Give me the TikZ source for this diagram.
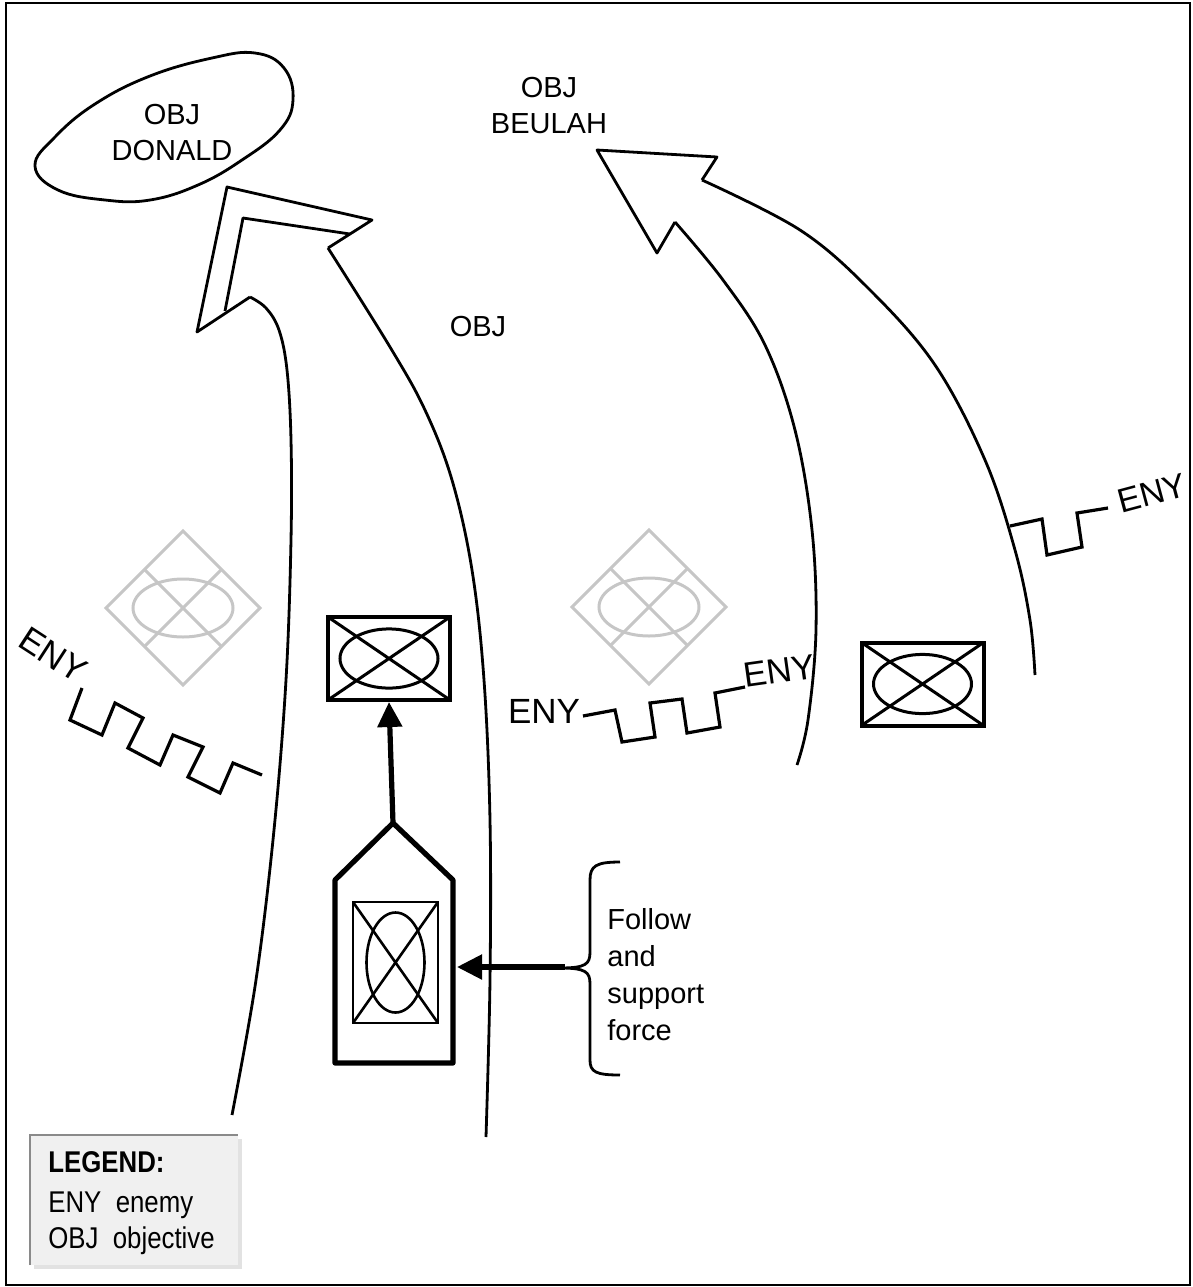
\documentclass[tikz,border=0pt]{standalone}
\usepackage{fontspec}
\setmainfont{Liberation Sans}
\newfontfamily\legendfont[FakeStretch=0.86]{Liberation Sans}
\usetikzlibrary{arrows.meta,calc,positioning}
\definecolor{ghost}{HTML}{C6C6C6}
\definecolor{legendfill}{HTML}{F0F0F0}
\definecolor{legendedge}{HTML}{8A8A8A}
\definecolor{legendshade}{HTML}{E2E2E2}

\tikzset{
  route/.style={line width=1.4pt,line join=round},
  trace/.style={line width=1.6pt,line join=miter},
  ghostline/.style={ghost,line width=1.5pt},
  lead/.style={line width=2.6pt,-{Triangle[length=12.5pt,width=12pt]}},
  unitbox/.style={draw,line width=2pt,minimum width=61pt,minimum height=41.5pt,
    inner sep=0pt,
    path picture={
      \draw[line width=1.5pt]
        (path picture bounding box.north west)--(path picture bounding box.south east)
        (path picture bounding box.south west)--(path picture bounding box.north east);
      \draw[line width=1.5pt] (path picture bounding box.center)
        ellipse (24.5pt and 14.8pt);}},
  tallbox/.style={draw,line width=1.4pt,minimum width=42.5pt,minimum height=60.5pt,
    inner sep=0pt,
    path picture={
      \draw[line width=1.3pt]
        (path picture bounding box.north west)--(path picture bounding box.south east)
        (path picture bounding box.south west)--(path picture bounding box.north east);
      \draw[line width=1.3pt] (path picture bounding box.center)
        ellipse (14.5pt and 25pt);}},
  eny/.style={font=\fontsize{17.5}{17.5}\selectfont,inner sep=0pt},
  lbl/.style={font=\fontsize{14.5}{18}\selectfont,align=center,inner sep=0pt},
  legendtxt/.style={font=\legendfont\fontsize{15}{15}\selectfont,anchor=base west,
    inner sep=0pt}
}

\begin{document}
\begin{tikzpicture}[x=0.5pt,y=-0.5pt,>=Latex]
\useasboundingbox (0,0) rectangle (1193,1287);
\draw[line width=0.9pt] (6,3) rectangle (1190,1285);

% objective DONALD
\draw[route] plot[smooth cycle,tension=0.7] coordinates
  {(35,166) (55,137) (95,104) (150,76) (212,58) (255,53) (284,68)
   (293,100) (280,130) (242,160) (198,185) (150,200) (105,200) (58,190)};
\node[lbl] (donald) at (172,133) {OBJ\\DONALD};
\node[lbl] (beulah) at (549,106) {OBJ\\BEULAH};
\node[lbl] (obj) at (478,327) {OBJ};

% left axis of advance
\draw[route] (250,297) -- (197,332) -- (227,187) -- (372,220) -- (328,248);
\draw[route] (225,311) -- (243,218) -- (350,234);
\draw[route] plot[smooth,tension=0.6] coordinates
  {(250,297) (266,308) (279,330) (287,370) (291,440) (291,540)
   (286,680) (274,830) (256,980) (232,1115)};
\draw[route] plot[smooth,tension=0.6] coordinates
  {(328,248) (390,347) (425,410) (452,480) (472,570) (484,680)
   (490,820) (490,980) (486,1137)};

% right axis of advance
\draw[route] (675,222) -- (657,253) -- (597,150) -- (717,157) -- (702,180);
\draw[route] plot[smooth,tension=0.6] coordinates
  {(675,222) (723,280) (765,345) (795,430) (812,530) (816,630)
   (808,720) (797,765)};
\draw[route] plot[smooth,tension=0.6] coordinates
  {(702,180) (800,230) (870,290) (935,365) (985,460) (1015,550)
   (1030,620) (1035,675)};

% templated positions
\foreach \cx/\cy in {183/608,649/607}{
  \begin{scope}[shift={(\cx,\cy)}]
    \draw[ghostline] (0,-77) -- (77,0) -- (0,77) -- (-77,0) -- cycle;
    \draw[ghostline] (-38.5,-38.5) -- (38.5,38.5) (38.5,-38.5) -- (-38.5,38.5);
    \draw[ghostline] (0,0) ellipse (25pt and 14.5pt);
  \end{scope}
}

% enemy positions
\draw[trace] (82,688) -- (70,720) -- (102,735) -- (115,703) -- (143,718)
  -- (128,748) -- (160,765) -- (173,735) -- (203,747) -- (188,777)
  -- (220,793) -- (233,763) -- (262,775);
\node[eny,rotate=-33] (enyleft) at (53,655) {ENY};
\draw[trace] (583,716) -- (615,710) -- (622,742) -- (655,737) -- (650,703)
  -- (682,699) -- (687,733) -- (720,727) -- (715,693) -- (745,687);
\node[eny] (enymid) at (544,711) {ENY};
\node[eny,rotate=8] (enymidb) at (779,671) {ENY};
\draw[trace] (1010,526) -- (1042,519) -- (1047,555) -- (1082,547)
  -- (1077,513) -- (1108,508);
\node[eny,rotate=15,font=\fontsize{17}{17}\selectfont] (enyright) at (1152,493) {ENY};

% units
\node[unitbox] (lead) at (389,658.5) {};
\node[unitbox] (flank) at (922.5,684) {};
\draw[line width=2.6pt,line join=round] (335,880) -- (393,823) -- (453,880)
  -- (453,1063) -- (335,1063) -- cycle;
\coordinate (peak) at (393,823);
\node[tallbox] (follow) at (395.5,962.5) {};
\coordinate (dock) at (457,967);
\draw[lead] (peak) -- (lead.south);

% follow and support bracket
\coordinate (tail) at (565,967);
\draw[lead] (tail) -- (dock);
\draw[route] (620,862) .. controls (596,862) and (590,866) .. (590,880)
  -- (590,952) .. controls (590,964) and (586,968) .. (560,968)
  .. controls (586,968) and (590,972) .. (590,984)
  -- (590,1060) .. controls (590,1072) and (596,1075) .. (620,1075);
\node[font=\fontsize{14.5}{18.5}\selectfont,align=left,anchor=west,inner sep=0pt]
  (fslabel) at (607,975) {Follow\\and\\support\\force};

% legend
\fill[legendshade] (34,1139) rectangle (242,1269);
\fill[legendfill] (30,1135) rectangle (238,1265);
\draw[legendedge,line width=1pt] (30,1265) -- (30,1135) -- (238,1135);
\node[legendtxt,font=\legendfont\fontsize{15}{15}\selectfont\bfseries]
  (legendhead) at (48,1172) {LEGEND:};
\node[legendtxt] (legendeny) at (48,1212) {ENY\ \ enemy};
\node[legendtxt] (legendobj) at (48,1248) {OBJ\ \ objective};
\end{tikzpicture}
\end{document}
